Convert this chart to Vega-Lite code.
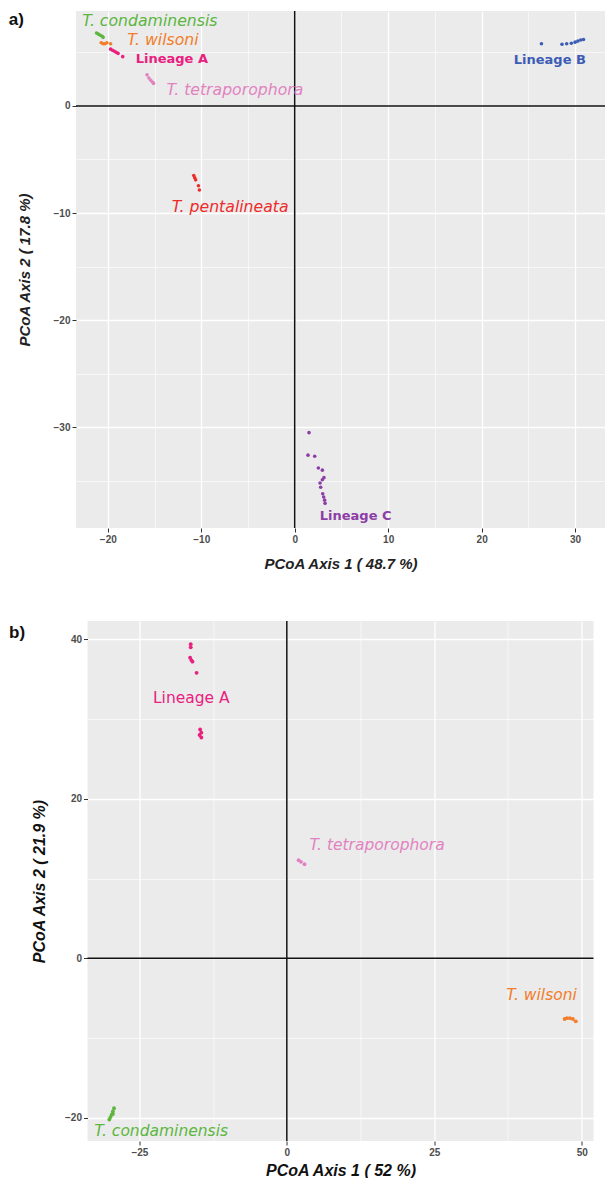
{
  "$schema": "https://vega.github.io/schema/vega-lite/v6.json",
  "background": "white",
  "padding": {"left": 8, "top": 10, "right": 0, "bottom": 0},
  "autosize": {"type": "pad"},
  "bounds": "flush",
  "center": true,
  "spacing": 93,
  "config": {
    "view": {"fill": "#EBEBEB", "stroke": null},
    "axis": {
      "domain": false,
      "gridColor": "#FFFFFF",
      "tickColor": "#333333",
      "tickSize": 4,
      "labelColor": "#4D4D4D",
      "labelFont": "Liberation Sans",
      "labelFontWeight": "bold",
      "labelFontSize": 10,
      "labelPadding": 2,
      "titleFont": "Liberation Sans",
      "titleFontStyle": "italic",
      "titleFontWeight": "bold",
      "titleColor": "#222222"
    }
  },
  "datasets": {
    "zero": [{"x": 0, "y": 0}],
    "tagA": [{"x": -30.59, "y": 8.02, "t": "a)"}],
    "tagB": [{"x": -47.1, "y": 40.75, "t": "b)"}],
    "ptsA": [
      {"x": -21.2, "y": 6.8, "g": "T. condaminensis"},
      {"x": -21.0, "y": 6.7, "g": "T. condaminensis"},
      {"x": -20.8, "y": 6.6, "g": "T. condaminensis"},
      {"x": -20.6, "y": 6.5, "g": "T. condaminensis"},
      {"x": -20.5, "y": 6.4, "g": "T. condaminensis"},
      {"x": -20.7, "y": 5.9, "g": "T. wilsoni"},
      {"x": -20.5, "y": 5.8, "g": "T. wilsoni"},
      {"x": -20.3, "y": 5.8, "g": "T. wilsoni"},
      {"x": -20.1, "y": 5.9, "g": "T. wilsoni"},
      {"x": -19.7, "y": 5.8, "g": "T. wilsoni"},
      {"x": -19.7, "y": 5.3, "g": "Lineage A"},
      {"x": -19.5, "y": 5.2, "g": "Lineage A"},
      {"x": -19.3, "y": 5.1, "g": "Lineage A"},
      {"x": -19.1, "y": 5.0, "g": "Lineage A"},
      {"x": -18.9, "y": 4.9, "g": "Lineage A"},
      {"x": -18.4, "y": 4.6, "g": "Lineage A"},
      {"x": -15.8, "y": 2.9, "g": "T. tetraporophora"},
      {"x": -15.6, "y": 2.6, "g": "T. tetraporophora"},
      {"x": -15.4, "y": 2.4, "g": "T. tetraporophora"},
      {"x": -15.2, "y": 2.2, "g": "T. tetraporophora"},
      {"x": -15.1, "y": 2.1, "g": "T. tetraporophora"},
      {"x": -10.8, "y": -6.5, "g": "T. pentalineata"},
      {"x": -10.7, "y": -6.7, "g": "T. pentalineata"},
      {"x": -10.6, "y": -6.9, "g": "T. pentalineata"},
      {"x": -10.3, "y": -7.45, "g": "T. pentalineata"},
      {"x": -10.2, "y": -7.85, "g": "T. pentalineata"},
      {"x": 26.4, "y": 5.8, "g": "Lineage B"},
      {"x": 28.6, "y": 5.75, "g": "Lineage B"},
      {"x": 29.1, "y": 5.8, "g": "Lineage B"},
      {"x": 29.6, "y": 5.85, "g": "Lineage B"},
      {"x": 30.0, "y": 5.95, "g": "Lineage B"},
      {"x": 30.3, "y": 6.05, "g": "Lineage B"},
      {"x": 30.6, "y": 6.15, "g": "Lineage B"},
      {"x": 30.9, "y": 6.2, "g": "Lineage B"},
      {"x": 1.53, "y": -30.5, "g": "Lineage C"},
      {"x": 1.42, "y": -32.6, "g": "Lineage C"},
      {"x": 2.14, "y": -32.7, "g": "Lineage C"},
      {"x": 2.53, "y": -33.8, "g": "Lineage C"},
      {"x": 2.96, "y": -34.0, "g": "Lineage C"},
      {"x": 3.13, "y": -34.7, "g": "Lineage C"},
      {"x": 2.96, "y": -34.9, "g": "Lineage C"},
      {"x": 2.71, "y": -35.2, "g": "Lineage C"},
      {"x": 2.78, "y": -35.6, "g": "Lineage C"},
      {"x": 3.0, "y": -36.2, "g": "Lineage C"},
      {"x": 3.1, "y": -36.5, "g": "Lineage C"},
      {"x": 3.2, "y": -36.8, "g": "Lineage C"},
      {"x": 3.25, "y": -37.1, "g": "Lineage C"}
    ],
    "labA": [
      {"x": -15.5, "y": 7.93, "t": "T. condaminensis", "g": "T. condaminensis", "it": true},
      {"x": -14.1, "y": 6.16, "t": "T. wilsoni", "g": "T. wilsoni", "it": true},
      {"x": -13.15, "y": 4.38, "t": "Lineage A", "g": "Lineage A", "it": false},
      {"x": -6.4, "y": 1.49, "t": "T. tetraporophora", "g": "T. tetraporophora", "it": true},
      {"x": -6.9, "y": -9.42, "t": "T. pentalineata", "g": "T. pentalineata", "it": true},
      {"x": 27.3, "y": 4.29, "t": "Lineage B", "g": "Lineage B", "it": false},
      {"x": 6.52, "y": -38.25, "t": "Lineage C", "g": "Lineage C", "it": false}
    ],
    "ptsB": [
      {"x": -16.3, "y": 39.4, "g": "Lineage A"},
      {"x": -16.3, "y": 39.0, "g": "Lineage A"},
      {"x": -16.4, "y": 37.7, "g": "Lineage A"},
      {"x": -16.2, "y": 37.4, "g": "Lineage A"},
      {"x": -16.0, "y": 37.2, "g": "Lineage A"},
      {"x": -15.3, "y": 35.8, "g": "Lineage A"},
      {"x": -14.7, "y": 28.7, "g": "Lineage A"},
      {"x": -14.5, "y": 28.3, "g": "Lineage A"},
      {"x": -14.8, "y": 28.0, "g": "Lineage A"},
      {"x": -14.5, "y": 27.7, "g": "Lineage A"},
      {"x": 2.0, "y": 12.3, "g": "T. tetraporophora"},
      {"x": 2.4, "y": 12.1, "g": "T. tetraporophora"},
      {"x": 3.0, "y": 11.8, "g": "T. tetraporophora"},
      {"x": 47.1, "y": -7.6, "g": "T. wilsoni"},
      {"x": 47.5, "y": -7.5, "g": "T. wilsoni"},
      {"x": 48.0, "y": -7.5, "g": "T. wilsoni"},
      {"x": 48.5, "y": -7.6, "g": "T. wilsoni"},
      {"x": 49.0, "y": -7.9, "g": "T. wilsoni"},
      {"x": -29.3, "y": -18.8, "g": "T. condaminensis"},
      {"x": -29.5, "y": -19.2, "g": "T. condaminensis"},
      {"x": -29.7, "y": -19.6, "g": "T. condaminensis"},
      {"x": -29.9, "y": -19.9, "g": "T. condaminensis"},
      {"x": -30.1, "y": -20.2, "g": "T. condaminensis"},
      {"x": -29.5, "y": -19.5, "g": "T. condaminensis"}
    ],
    "labB": [
      {"x": -16.2, "y": 32.6, "t": "Lineage A", "g": "Lineage A", "it": false},
      {"x": 15.3, "y": 14.2, "t": "T. tetraporophora", "g": "T. tetraporophora", "it": true},
      {"x": 43.2, "y": -4.6, "t": "T. wilsoni", "g": "T. wilsoni", "it": true},
      {"x": -21.3, "y": -21.65, "t": "T. condaminensis", "g": "T. condaminensis", "it": true}
    ]
  },
  "vconcat": [
    {
      "width": 529,
      "height": 517,
      "layer": [
        {
          "data": {"name": "zero"},
          "mark": {"type": "rule", "color": "#111111", "strokeWidth": 1.5},
          "encoding": {"x": {"field": "x", "type": "quantitative", "scale": {"domain": [-23.4, 33.2], "nice": false, "zero": false}}}
        },
        {
          "data": {"name": "zero"},
          "mark": {"type": "rule", "color": "#111111", "strokeWidth": 1.5},
          "encoding": {"y": {"field": "y", "type": "quantitative", "scale": {"domain": [-39.4, 8.86], "nice": false, "zero": false}}}
        },
        {
          "data": {"name": "ptsA"},
          "mark": {"type": "circle", "size": 13, "opacity": 1},
          "encoding": {
            "x": {"field": "x", "type": "quantitative", "scale": {"domain": [-23.4, 33.2], "nice": false, "zero": false},
              "axis": {"title": "PCoA Axis 1 ( 48.7 %)", "titleFontSize": 15, "titlePadding": 12,
                "values": [-20, -15, -10, -5, 0, 5, 10, 15, 20, 25, 30],
                "labelExpr": "datum.value % 10 === 0 ? datum.label : ''",
                "gridWidth": {"condition": {"test": "datum.value % 10 === 0", "value": 1.3}, "value": 0.6},
                "tickOpacity": {"condition": {"test": "datum.value % 10 === 0", "value": 1}, "value": 0}}},
            "y": {"field": "y", "type": "quantitative", "scale": {"domain": [-39.4, 8.86], "nice": false, "zero": false},
              "axis": {"title": "PCoA Axis 2 ( 17.8 %)", "titleFontSize": 15, "titlePadding": 21,
                "values": [5, 0, -5, -10, -15, -20, -25, -30, -35],
                "labelExpr": "datum.value % 10 === 0 ? datum.label : ''",
                "gridWidth": {"condition": {"test": "datum.value % 10 === 0", "value": 1.3}, "value": 0.6},
                "tickOpacity": {"condition": {"test": "datum.value % 10 === 0", "value": 1}, "value": 0}}},
            "color": {"field": "g", "type": "nominal", "legend": null,
              "scale": {"domain": ["T. condaminensis", "T. wilsoni", "Lineage A", "T. tetraporophora", "T. pentalineata", "Lineage B", "Lineage C"],
                "range": ["#5CB63F", "#F27D2A", "#E9207F", "#E283C1", "#EE2B2B", "#3D5CB5", "#8C3DA6"]}}
          }
        },
        {
          "data": {"name": "labA"},
          "transform": [{"filter": "datum.it"}],
          "mark": {"type": "text", "font": "DejaVu Sans", "fontStyle": "italic", "fontSize": 15.7, "align": "center", "baseline": "middle"},
          "encoding": {
            "x": {"field": "x", "type": "quantitative", "scale": {"domain": [-23.4, 33.2], "nice": false, "zero": false}},
            "y": {"field": "y", "type": "quantitative", "scale": {"domain": [-39.4, 8.86], "nice": false, "zero": false}},
            "text": {"field": "t"},
            "color": {"field": "g", "type": "nominal", "legend": null}
          }
        },
        {
          "data": {"name": "labA"},
          "transform": [{"filter": "!datum.it"}],
          "mark": {"type": "text", "font": "DejaVu Sans", "fontWeight": "bold", "fontSize": 13, "align": "center", "baseline": "middle"},
          "encoding": {
            "x": {"field": "x", "type": "quantitative", "scale": {"domain": [-23.4, 33.2], "nice": false, "zero": false}},
            "y": {"field": "y", "type": "quantitative", "scale": {"domain": [-39.4, 8.86], "nice": false, "zero": false}},
            "text": {"field": "t"},
            "color": {"field": "g", "type": "nominal", "legend": null}
          }
        },
        {
          "data": {"name": "tagA"},
          "mark": {"type": "text", "font": "Liberation Sans", "fontWeight": "bold", "fontSize": 17, "align": "left", "baseline": "middle", "color": "#111111"},
          "encoding": {
            "x": {"field": "x", "type": "quantitative", "scale": {"domain": [-23.4, 33.2], "nice": false, "zero": false}},
            "y": {"field": "y", "type": "quantitative", "scale": {"domain": [-39.4, 8.86], "nice": false, "zero": false}},
            "text": {"field": "t"}
          }
        }
      ]
    },
    {
      "width": 506,
      "height": 520,
      "layer": [
        {
          "data": {"name": "zero"},
          "mark": {"type": "rule", "color": "#111111", "strokeWidth": 1.5},
          "encoding": {"x": {"field": "x", "type": "quantitative", "scale": {"domain": [-33.8, 52], "nice": false, "zero": false}}}
        },
        {
          "data": {"name": "zero"},
          "mark": {"type": "rule", "color": "#111111", "strokeWidth": 1.5},
          "encoding": {"y": {"field": "y", "type": "quantitative", "scale": {"domain": [-22.9, 42.3], "nice": false, "zero": false}}}
        },
        {
          "data": {"name": "ptsB"},
          "mark": {"type": "circle", "size": 15, "opacity": 1},
          "encoding": {
            "x": {"field": "x", "type": "quantitative", "scale": {"domain": [-33.8, 52], "nice": false, "zero": false},
              "axis": {"title": "PCoA Axis 1 ( 52 %)", "titleFontSize": 16, "titlePadding": 5, "titleColor": "#111111",
                "values": [-25, -12.5, 0, 12.5, 25, 37.5, 50],
                "labelExpr": "datum.value % 25 === 0 ? datum.label : ''",
                "gridWidth": {"condition": {"test": "datum.value % 25 === 0", "value": 1.3}, "value": 0.6},
                "tickOpacity": {"condition": {"test": "datum.value % 25 === 0", "value": 1}, "value": 0}}},
            "y": {"field": "y", "type": "quantitative", "scale": {"domain": [-22.9, 42.3], "nice": false, "zero": false},
              "axis": {"title": "PCoA Axis 2 ( 21.9 %)", "titleFontSize": 16, "titlePadding": 17, "titleColor": "#111111",
                "values": [40, 30, 20, 10, 0, -10, -20],
                "labelExpr": "datum.value % 20 === 0 ? datum.label : ''",
                "gridWidth": {"condition": {"test": "datum.value % 20 === 0", "value": 1.3}, "value": 0.6},
                "tickOpacity": {"condition": {"test": "datum.value % 20 === 0", "value": 1}, "value": 0}}},
            "color": {"field": "g", "type": "nominal", "legend": null,
              "scale": {"domain": ["T. condaminensis", "T. wilsoni", "Lineage A", "T. tetraporophora", "T. pentalineata", "Lineage B", "Lineage C"],
                "range": ["#5CB63F", "#F27D2A", "#E9207F", "#E283C1", "#EE2B2B", "#3D5CB5", "#8C3DA6"]}}
          }
        },
        {
          "data": {"name": "labB"},
          "transform": [{"filter": "datum.it"}],
          "mark": {"type": "text", "font": "DejaVu Sans", "fontStyle": "italic", "fontSize": 15.5, "align": "center", "baseline": "middle"},
          "encoding": {
            "x": {"field": "x", "type": "quantitative", "scale": {"domain": [-33.8, 52], "nice": false, "zero": false}},
            "y": {"field": "y", "type": "quantitative", "scale": {"domain": [-22.9, 42.3], "nice": false, "zero": false}},
            "text": {"field": "t"},
            "color": {"field": "g", "type": "nominal", "legend": null}
          }
        },
        {
          "data": {"name": "labB"},
          "transform": [{"filter": "!datum.it"}],
          "mark": {"type": "text", "font": "DejaVu Sans", "fontSize": 15.5, "align": "center", "baseline": "middle"},
          "encoding": {
            "x": {"field": "x", "type": "quantitative", "scale": {"domain": [-33.8, 52], "nice": false, "zero": false}},
            "y": {"field": "y", "type": "quantitative", "scale": {"domain": [-22.9, 42.3], "nice": false, "zero": false}},
            "text": {"field": "t"},
            "color": {"field": "g", "type": "nominal", "legend": null}
          }
        },
        {
          "data": {"name": "tagB"},
          "mark": {"type": "text", "font": "Liberation Sans", "fontWeight": "bold", "fontSize": 17, "align": "left", "baseline": "middle", "color": "#111111"},
          "encoding": {
            "x": {"field": "x", "type": "quantitative", "scale": {"domain": [-33.8, 52], "nice": false, "zero": false}},
            "y": {"field": "y", "type": "quantitative", "scale": {"domain": [-22.9, 42.3], "nice": false, "zero": false}},
            "text": {"field": "t"}
          }
        }
      ]
    }
  ]
}
